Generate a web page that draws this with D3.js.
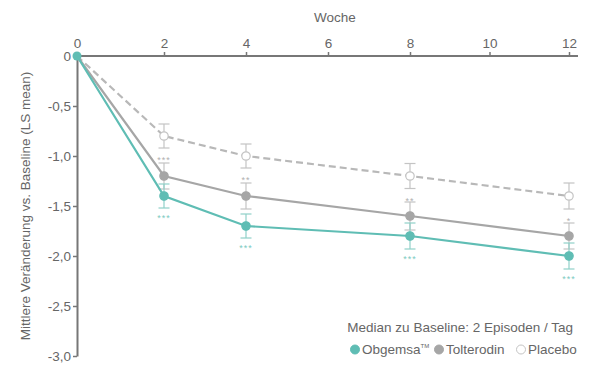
<!DOCTYPE html>
<html><head><meta charset="utf-8">
<script src="https://cdn.jsdelivr.net/npm/d3@7"></script>
<style>body{margin:0;background:#fff}svg{display:block}text{font-family:"Liberation Sans",Arial,sans-serif}</style>
</head><body><svg id="c" width="600" height="382"></svg>
<script>
const weeks = [0, 2, 4, 8, 12];
const xTicks = [0, 2, 4, 6, 8, 10, 12];
const yTicks = [0, -0.5, -1.0, -1.5, -2.0, -2.5, -3.0];
const obgemsa = [0, -1.4, -1.7, -1.8, -2.0];
const obgemsaErr = [0, 0.12, 0.12, 0.13, 0.13];
const obgemsaSig = ["", "***", "***", "***", "***"];
const tolterodin = [0, -1.2, -1.4, -1.6, -1.8];
const tolterodinErr = [0, 0.13, 0.13, 0.14, 0.13];
const placebo = [0, -0.8, -1.0, -1.2, -1.4];
const placeboErr = [0, 0.12, 0.12, 0.125, 0.13];
const placeboSig = ["", "***", "**", "**", "*"];
const legendNames = ["Obgemsa", "Tolterodin", "Placebo"];

const teal = "#5fbdb4", gray = "#a6a6a6", light = "#c4c4c4", axisC = "#777", textC = "#666";
const FS = 13.5;
const svg = d3.select("#c");
const x = d3.scaleLinear().domain([0, 2, 8, 12]).range([77, 164, 410, 569]);
const y = d3.scaleLinear().domain([0, -3]).range([56, 356]);
const fmt = d => d === 0 ? "0" : d3.format(".1f")(d).replace(".", ",").replace("−", "-");

// axes
const xa = svg.append("g").attr("transform", `translate(0,${y(0)})`)
  .call(d3.axisTop(x).tickValues(xTicks).tickSize(4).tickSizeOuter(0).tickFormat(d3.format("d")));
xa.select(".domain").remove();
xa.selectAll("line").attr("stroke", axisC).attr("stroke-width", 1.5);
xa.selectAll("text").attr("fill", textC).attr("font-size", FS).attr("dy", "-0.05em");
xa.selectAll(".tick").filter(d => d === 0).select("line").remove();
svg.append("line").attr("x1", x(0)).attr("x2", x(12) + 9).attr("y1", y(0)).attr("y2", y(0))
  .attr("stroke", axisC).attr("stroke-width", 2);

const ya = svg.append("g").attr("transform", `translate(${x(0)},0)`)
  .call(d3.axisLeft(y).tickValues(yTicks).tickSize(4).tickSizeOuter(0).tickFormat(fmt));
ya.select(".domain").attr("stroke", axisC).attr("stroke-width", 2);
ya.selectAll("line").attr("stroke", axisC).attr("stroke-width", 1.5);
ya.selectAll("text").attr("fill", textC).attr("font-size", FS).attr("x", -6);
ya.selectAll(".tick").filter(d => d === 0).select("line").remove();

svg.append("text").attr("x", 335).attr("y", 22).attr("text-anchor", "middle")
  .attr("fill", textC).attr("font-size", FS).text("Woche");
svg.append("text").attr("transform", `translate(30,${(y(0) + y(-3)) / 2}) rotate(-90)`)
  .attr("text-anchor", "middle").attr("fill", textC).attr("font-size", FS)
  .text("Mittlere Veränderung vs. Baseline (LS mean)");

const series = [
  {v: placebo, e: placeboErr, line: "#b8b8b8", dash: "7,4", fill: "#fff", stroke: light, err: light},
  {v: tolterodin, e: tolterodinErr, line: gray, dash: null, fill: gray, stroke: gray, err: light},
  {v: obgemsa, e: obgemsaErr, line: teal, dash: null, fill: teal, stroke: teal, err: "#8fd0c9"}
];
// error bars
series.forEach(s => {
  const g = svg.append("g");
  weeks.forEach((w, i) => {
    if (!s.e[i]) return;
    const t = y(s.v[i] + s.e[i]), b = y(s.v[i] - s.e[i]), cx = x(w);
    g.append("line").attr("x1", cx).attr("x2", cx).attr("y1", t).attr("y2", b).attr("stroke", s.err).attr("stroke-width", 1.2);
    [t, b].forEach(yy => g.append("line").attr("x1", cx - 5.5).attr("x2", cx + 5.5).attr("y1", yy).attr("y2", yy).attr("stroke", s.err).attr("stroke-width", 1.2));
  });
});
// lines
series.forEach(s => {
  svg.append("path").datum(weeks.map((w, i) => [w, s.v[i]]))
    .attr("d", d3.line().x(d => x(d[0])).y(d => y(d[1])))
    .attr("fill", "none").attr("stroke", s.line).attr("stroke-width", 2.2)
    .attr("stroke-dasharray", s.dash);
});
// points
series.forEach((s, k) => {
  svg.append("g").selectAll("circle").data(weeks.map((w, i) => [w, s.v[i]]).slice(1)).join("circle")
    .attr("cx", d => x(d[0])).attr("cy", d => y(d[1])).attr("r", 4.2)
    .attr("fill", s.fill).attr("stroke", s.stroke).attr("stroke-width", 1.2);
});
svg.append("circle").attr("cx", x(0)).attr("cy", y(0)).attr("r", 4.5).attr("fill", teal);
// significance
weeks.forEach((w, i) => {
  if (placeboSig[i]) svg.append("text").attr("x", x(w)).attr("y", y(placebo[i] - placeboErr[i]) + 15)
    .attr("text-anchor", "middle").attr("fill", "#b0b0b0").attr("font-size", 9).attr("letter-spacing", 1).text(placeboSig[i]);
  if (obgemsaSig[i]) svg.append("text").attr("x", x(w)).attr("y", y(obgemsa[i] - obgemsaErr[i]) + 13)
    .attr("text-anchor", "middle").attr("fill", "#7ccac1").attr("font-size", 9).attr("letter-spacing", 1).text(obgemsaSig[i]);
});
// legend
svg.append("text").attr("x", 573).attr("y", 332).attr("text-anchor", "end").attr("fill", textC)
  .attr("font-size", FS).text("Median zu Baseline: 2 Episoden / Tag");
const lg = [{x: 355, fill: teal, stroke: teal}, {x: 439, fill: gray, stroke: gray}, {x: 521, fill: "#fff", stroke: light}];
lg.forEach((l, i) => {
  svg.append("circle").attr("cx", l.x).attr("cy", 349.5).attr("r", 4.5).attr("fill", l.fill).attr("stroke", l.stroke).attr("stroke-width", 1);
  const t = svg.append("text").attr("x", l.x + 7).attr("y", 354).attr("fill", textC).attr("font-size", FS).text(legendNames[i]);
  if (i === 0) t.append("tspan").attr("font-size", 6).attr("dy", -6).text("TM");
});
</script></body></html>
